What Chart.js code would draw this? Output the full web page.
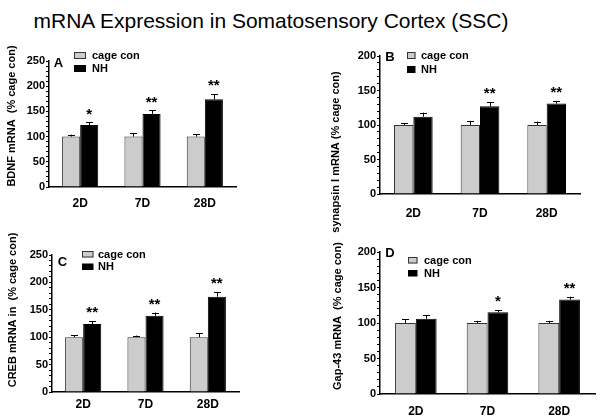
<!DOCTYPE html>
<html><head><meta charset="utf-8">
<script src="https://cdn.jsdelivr.net/npm/chart.js@4.4.0/dist/chart.umd.min.js"></script>
<style>
html,body{margin:0;padding:0;background:#fff;width:600px;height:419px;overflow:hidden}
canvas{position:absolute;left:0;top:0}
#title{position:absolute;left:0;top:9px;width:542px;text-align:center;font:21px "Liberation Sans",Arial,sans-serif;line-height:24px;color:#000;white-space:nowrap}
</style></head><body>
<div id="title">mRNA Expression in Somatosensory Cortex (SSC)</div>
<canvas id="cA" width="600" height="419"></canvas>
<canvas id="cB" width="600" height="419"></canvas>
<canvas id="cC" width="600" height="419"></canvas>
<canvas id="cD" width="600" height="419"></canvas>
<script>
// ---- data ----
const categories = ['2D', '7D', '28D'];
const seriesNames = ['cage con', 'NH'];

// Panel A: BDNF
const bdnfCage = [100, 100, 100];
const bdnfCageErr = [4, 7, 5];
const bdnfNH = [123, 145, 174];
const bdnfNHErr = [5, 7, 10];
const bdnfSig = ['*', '**', '**'];

// Panel B: synapsin I
const synCage = [100, 100, 100];
const synCageErr = [3, 6, 5];
const synNH = [112, 127, 131];
const synNHErr = [6, 6, 4];
const synSig = ['', '**', '**'];

// Panel C: CREB
const crebCage = [100, 100, 100];
const crebCageErr = [4, 3, 7];
const crebNH = [124, 139, 174];
const crebNHErr = [5, 6, 8];
const crebSig = ['**', '**', '**'];

// Panel D: Gap-43
const gapCage = [100, 100, 100];
const gapCageErr = [5, 3, 3];
const gapNH = [106, 115, 133];
const gapNHErr = [5, 3, 4];
const gapSig = ['', '*', '**'];

const ticks250 = [0, 50, 100, 150, 200, 250];
const ticks200 = [0, 50, 100, 150, 200];

// ---- layout / style ----
const FONT = '"Liberation Sans", Arial, Helvetica, sans-serif';
Chart.defaults.font.family = FONT;
Chart.defaults.color = '#000';

const panels = [
  {id:'cA', letter:'A', yTitle:'BDNF mRNA  (% cage con)', cage:bdnfCage, cageErr:bdnfCageErr, nh:bdnfNH, nhErr:bdnfNHErr, sig:bdnfSig,
   yMax:250, major:ticks250, area:{l:49, r:236, t:61, b:187}, xPad:9,
   titlePos:[11.5, 116], letterPos:[58.5, 63], legend:{x:74, y:52, w:12, h:7, dy:13, tx:92}},
  {id:'cB', letter:'B', yTitle:'synapsin I mRNA (% cage con)', cage:synCage, cageErr:synCageErr, nh:synNH, nhErr:synNHErr, sig:synSig,
   yMax:200, major:ticks200, area:{l:380, r:580, t:56, b:194}, xPad:12,
   titlePos:[336, 152], letterPos:[390, 57], legend:{x:407, y:52, w:8.5, h:7, dy:14, tx:421}},
  {id:'cC', letter:'C', yTitle:'CREB mRNA in  (% cage con)', cage:crebCage, cageErr:crebCageErr, nh:crebNH, nhErr:crebNHErr, sig:crebSig,
   yMax:250, major:ticks250, area:{l:52, r:239, t:255, b:392}, xPad:5,
   titlePos:[12.5, 310], letterPos:[62.5, 262], legend:{x:82, y:251, w:11.5, h:6.5, dy:12.5, tx:98}},
  {id:'cD', letter:'D', yTitle:'Gap-43 mRNA  (% cage con)', cage:gapCage, cageErr:gapCageErr, nh:gapNH, nhErr:gapNHErr, sig:gapSig,
   yMax:200, major:ticks200, area:{l:380, r:595, t:252, b:394}, xPad:10,
   titlePos:[338, 316], letterPos:[390, 253], legend:{x:408, y:257, w:9.5, h:6.5, dy:13, tx:424}}
];

const Y_W = 40;
const GRAY = '#cccccc';

function makeDecor(p) {
  return {
    id: 'decor_' + p.id,
    afterDatasetsDraw(chart) {
      const ctx = chart.ctx;
      const ys = chart.scales.y;
      const errs = [p.cageErr, p.nhErr];
      const vals = [p.cage, p.nh];
      ctx.save();
      ctx.strokeStyle = '#000';
      ctx.lineWidth = 1;
      // error bars (upper only)
      for (let d = 0; d < 2; d++) {
        const meta = chart.getDatasetMeta(d);
        meta.data.forEach((el, i) => {
          const yTop = ys.getPixelForValue(vals[d][i] + errs[d][i]);
          const x = Math.round(el.x) + 0.5;
          ctx.beginPath();
          ctx.moveTo(x, el.y);
          ctx.lineTo(x, yTop);
          ctx.moveTo(x - 3.5, Math.round(yTop) + 0.5);
          ctx.lineTo(x + 3.5, Math.round(yTop) + 0.5);
          ctx.stroke();
        });
      }
      // significance stars
      ctx.fillStyle = '#000';
      ctx.font = 'bold 15px ' + FONT;
      ctx.textAlign = 'center';
      ctx.textBaseline = 'middle';
      const metaNH = chart.getDatasetMeta(1);
      metaNH.data.forEach((el, i) => {
        if (!p.sig[i]) return;
        const yTop = ys.getPixelForValue(p.nh[i] + p.nhErr[i]);
        ctx.fillText(p.sig[i], el.x, yTop - 8);
      });
      // legend
      const L = p.legend;
      ctx.fillStyle = GRAY;
      ctx.fillRect(L.x, L.y, L.w, L.h);
      ctx.strokeStyle = '#333';
      ctx.strokeRect(L.x + 0.5, L.y + 0.5, L.w - 1, L.h - 1);
      ctx.fillStyle = '#000';
      ctx.fillRect(L.x, L.y + L.dy, L.w, L.h);
      ctx.font = 'bold 11px ' + FONT;
      ctx.textAlign = 'left';
      ctx.textBaseline = 'middle';
      ctx.fillText(seriesNames[0], L.tx, L.y + L.h / 2 + 0.5);
      ctx.fillText(seriesNames[1], L.tx, L.y + L.dy + L.h / 2 + 0.5);
      // panel letter
      ctx.font = 'bold 13px ' + FONT;
      ctx.textAlign = 'center';
      ctx.fillText(p.letter, p.letterPos[0], p.letterPos[1]);
      // y axis title
      ctx.translate(p.titlePos[0], p.titlePos[1]);
      ctx.rotate(-Math.PI / 2);
      ctx.font = 'bold 11px ' + FONT;
      ctx.textAlign = 'center';
      ctx.textBaseline = 'middle';
      ctx.fillText(p.yTitle, 0, 0);
      ctx.restore();
    }
  };
}

panels.forEach(p => {
  const a = p.area;
  const xH = p.xPad + 15;
  new Chart(document.getElementById(p.id), {
    type: 'bar',
    data: {
      labels: categories,
      datasets: [
        {label: seriesNames[0], data: p.cage, backgroundColor: GRAY, borderColor: '#333', borderWidth: 1,
         categoryPercentage: 0.58, barPercentage: 1},
        {label: seriesNames[1], data: p.nh, backgroundColor: '#000', borderColor: '#000', borderWidth: 1,
         categoryPercentage: 0.58, barPercentage: 1}
      ]
    },
    options: {
      responsive: false,
      animation: false,
      events: [],
      layout: {padding: {left: a.l - Y_W, right: 600 - a.r, top: a.t, bottom: Math.max(0, 419 - a.b - xH)}},
      plugins: {legend: {display: false}, tooltip: {enabled: false}, title: {display: false}},
      scales: {
        x: {
          afterFit: s => { s.height = xH; },
          grid: {display: true, drawOnChartArea: false, drawTicks: false, color: '#000'},
          border: {display: true, color: '#000', width: 1.5},
          ticks: {font: {size: 12, weight: 'bold'}, color: '#000', padding: p.xPad, maxRotation: 0}
        },
        y: {
          min: 0, max: p.yMax,
          afterFit: s => { s.width = Y_W; },
          grid: {display: true, drawOnChartArea: false, drawTicks: true, tickLength: 3, color: '#000', lineWidth: 1},
          border: {display: true, color: '#000', width: 1.5},
          ticks: {stepSize: 10, autoSkip: false, padding: 1, color: '#000', font: {size: 11, weight: 'bold'},
                  callback: v => p.major.includes(v) ? String(v) : ''}
        }
      }
    },
    plugins: [makeDecor(p)]
  });
});
</script>
</body></html>
